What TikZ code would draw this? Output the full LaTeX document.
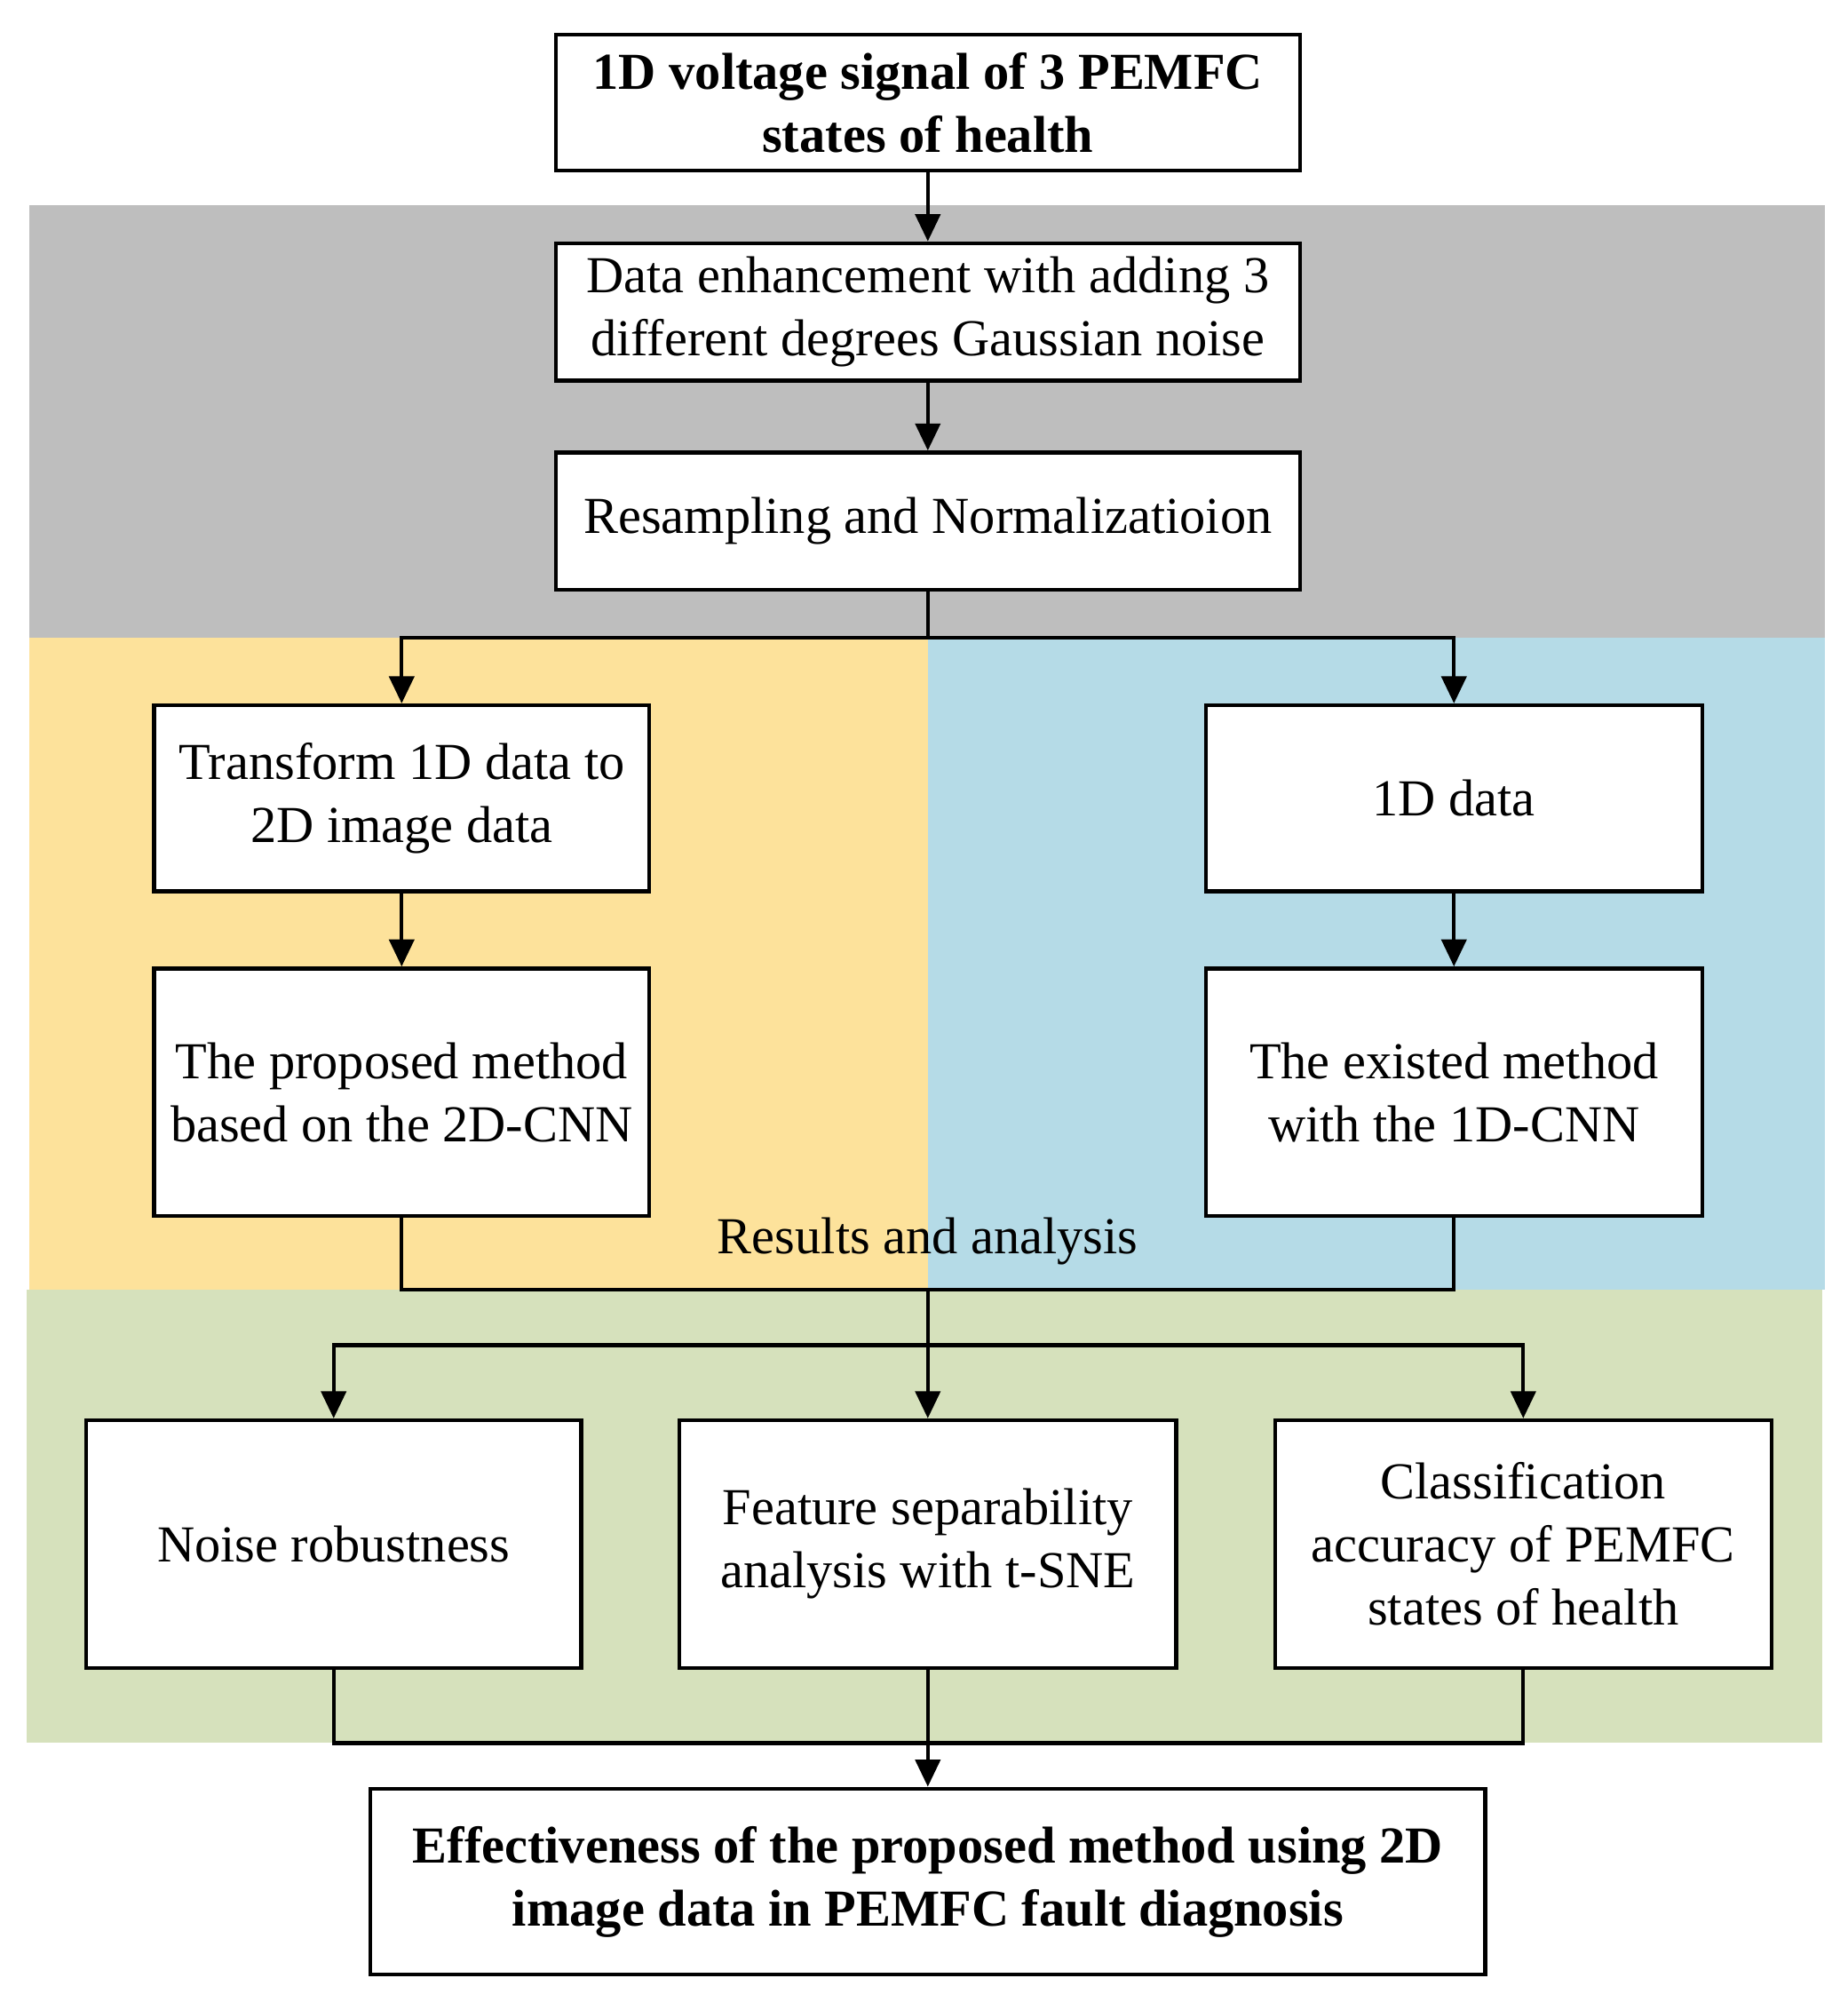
\documentclass[tikz,border=0pt]{standalone}
\usepackage{fontspec}
\setmainfont{Liberation Serif}
\usetikzlibrary{arrows.meta}
\definecolor{bgray}{HTML}{BEBEBE}
\definecolor{byel}{HTML}{FDE29B}
\definecolor{bblue}{HTML}{B5DBE7}
\definecolor{bgreen}{HTML}{D6E1BC}
\begin{document}
\begin{tikzpicture}[x=0.02cm,y=-0.02cm,
  box/.style={draw,line width=1.7pt,fill=white,align=center,inner sep=0pt,font=\fontsize{23}{28}\selectfont},
  bbox/.style={box,font=\fontsize{23}{28}\selectfont\bfseries},
  ln/.style={line width=1.7pt},
  ar/.style={line width=1.7pt,-{Triangle[length=12pt,width=11pt]}}]
\useasboundingbox (0,0) rectangle (1440,1566);
\fill[bgray] (23,160) rectangle (1422,497);
\fill[byel] (23,497) rectangle (723,1005);
\fill[bblue] (723,497) rectangle (1422,1005);
\fill[bgreen] (21,1005) rectangle (1420,1358);
\node[bbox,minimum width=11.6cm,minimum height=2.12cm] (top) at (723,80) {1D voltage signal of 3 PEMFC\\states of health};
\node[box,minimum width=11.6cm,minimum height=2.14cm] (b2) at (723,243) {Data enhancement with adding 3\\different degrees Gaussian noise};
\node[box,minimum width=11.6cm,minimum height=2.14cm] (b3) at (723,406) {Resampling and Normalizatioion};
\node[box,minimum width=7.72cm,minimum height=2.9cm] (l1) at (313,622) {Transform 1D data to\\2D image data};
\node[box,minimum width=7.74cm,minimum height=2.9cm] (r1) at (1133,622) {1D data};
\node[box,minimum width=7.72cm,minimum height=3.86cm] (l2) at (313,851) {The proposed method\\based on the 2D-CNN};
\node[box,minimum width=7.74cm,minimum height=3.86cm] (r2) at (1133,851) {The existed method\\with the 1D-CNN};
\node[font=\fontsize{23}{28}\selectfont] (res) at (723,967) {Results and analysis};
\node[box,minimum width=7.72cm,minimum height=3.86cm] (n1) at (260,1203) {Noise robustness};
\node[box,minimum width=7.74cm,minimum height=3.86cm] (n2) at (723,1203) {Feature separability\\analysis with t-SNE};
\node[box,minimum width=7.74cm,minimum height=3.86cm] (n3) at (1187,1203) {Classification\\accuracy of PEMFC\\states of health};
\node[bbox,minimum width=17.38cm,minimum height=2.9cm] (fin) at (723,1466) {Effectiveness of the proposed method using 2D\\image data in PEMFC fault diagnosis};
\coordinate (s1) at (723,497);
\coordinate (m1) at (723,1005);
\coordinate (s2) at (723,1048);
\coordinate (m2) at (723,1358);
% connectors
\draw[ar] (top) -- (b2);
\draw[ar] (b2) -- (b3);
\draw[ln] (b3) -- (s1);
\draw[ar] (s1) -| (l1);
\draw[ar] (s1) -| (r1);
\draw[ar] (l1) -- (l2);
\draw[ar] (r1) -- (r2);
\draw[ln] (l2) |- (m1) -| (r2);
\draw[ln] (m1) -- (s2);
\draw[ar] (s2) -| (n1);
\draw[ar] (s2) -- (n2);
\draw[ar] (s2) -| (n3);
\draw[ln] (n1) |- (m2) -| (n3);
\draw[ar] (n2) -- (fin);
\end{tikzpicture}
\end{document}
